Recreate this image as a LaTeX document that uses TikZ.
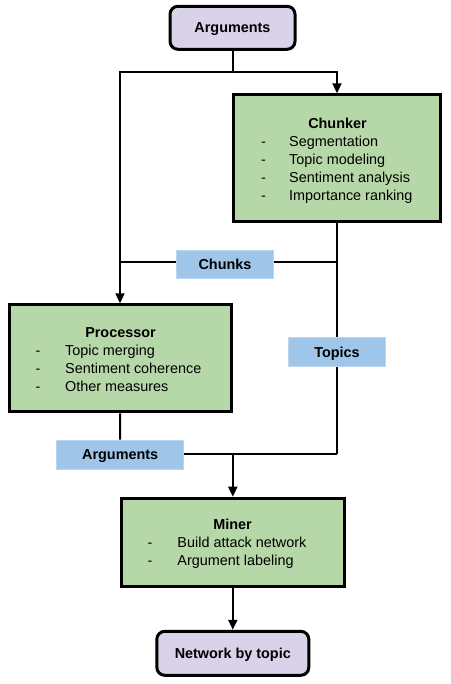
\documentclass[tikz,border=0pt]{standalone}
\usepackage{fontspec}
\setmainfont{Liberation Sans}
\usetikzlibrary{arrows.meta,backgrounds}
\definecolor{boxgreen}{HTML}{B6D7A8}
\definecolor{boxlav}{HTML}{D9D2E9}
\definecolor{boxblue}{HTML}{9FC5E8}
\begin{document}
\begin{tikzpicture}[x=1pt,y=-1pt,
  every node/.style={font=\fontsize{14.4}{18}\selectfont},
  stagebox/.style={draw=black,line width=3pt,fill=boxgreen,inner sep=0pt},
  termbox/.style={draw=black,line width=3pt,fill=boxlav,rounded corners=8pt,inner sep=0pt,text height=10.4pt,text depth=0pt,font=\fontsize{14.4}{18}\selectfont\bfseries},
  flowlabel/.style={fill=boxblue,draw=boxblue!70!white,line width=0.8pt,inner sep=0pt,text height=10.4pt,text depth=0pt,font=\fontsize{14.4}{18}\selectfont\bfseries},
  titletext/.style={anchor=base,inner sep=0pt,font=\fontsize{14.4}{18}\selectfont\bfseries},
  listtext/.style={anchor=base west,inner sep=0pt,align=left},
  conn/.style={line width=2pt},
  arr/.style={conn,-{Triangle[length=10pt,width=9pt]}}
]
\useasboundingbox (0,0) rectangle (450,684);
% terminals and stages
\node[termbox,minimum width=125pt,minimum height=43pt] (args) at (232.5,27.8) {Arguments};
\node[stagebox,minimum width=207pt,minimum height=127pt] (chunker) at (337,158.3) {};
\node[stagebox,minimum width=222pt,minimum height=107pt] (proc) at (120,358.3) {};
\node[stagebox,minimum width=223pt,minimum height=88pt] (miner) at (232.8,542.2) {};
\node[termbox,minimum width=152pt,minimum height=44pt] (net) at (232.8,653.3) {Network by topic};
% texts in stages
\node[titletext] (chunkertitle) at (337.5,129) {Chunker};
\node[listtext] (chunkerlist) at (261,147) {\begin{tabular}[t]{@{}p{28pt}@{}l@{}}-&Segmentation\\-&Topic modeling\\-&Sentiment analysis\\-&Importance ranking\end{tabular}};
\node[titletext] (proctitle) at (120.5,337) {Processor};
\node[listtext] (proclist) at (35.5,355) {\begin{tabular}[t]{@{}p{29.5pt}@{}l@{}}-&Topic merging\\-&Sentiment coherence\\-&Other measures\end{tabular}};
\node[titletext] (minertitle) at (232.5,529.3) {Miner};
\node[listtext] (minerlist) at (147.5,547.7) {\begin{tabular}[t]{@{}p{29.8pt}@{}l@{}}-&Build attack network\\-&Argument labeling\end{tabular}};
% flow labels
\node[flowlabel,minimum width=96.6pt,minimum height=28.3pt] (lchunks) at (225,264.2) {Chunks};
\node[flowlabel,minimum width=96.6pt,minimum height=29pt] (ltopics) at (337,352.2) {Topics};
\node[flowlabel,minimum width=127pt,minimum height=29pt] (largs) at (120.2,454.5) {Arguments};
% junction coordinates
\coordinate (j1) at (args.south |- 0,72);
\coordinate (jl) at (120,72);
\coordinate (jr) at (chunker.north |- 0,72);
\coordinate (jchunkr) at (chunker.south |- 0,262.3);
\coordinate (jchunkl) at (120,262.3);
\coordinate (jbot) at (chunker.south |- 0,454.3);
\coordinate (jmid) at (miner.north |- 0,454.3);
\begin{scope}[on background layer]
\draw[conn] (args.south) -- (j1);
\draw[arr] (j1) -- (jl) -- (proc.north -| jl);
\draw[arr] (j1) -- (jr) -- (chunker.north);
\draw[conn] (chunker.south) -- (jbot);
\draw[conn] (jchunkr) -- (jchunkl);
\draw[conn] (proc.south) -- (largs.north);
\draw[conn] (largs.east |- jbot) -- (jbot);
\draw[arr] (jmid) -- (miner.north);
\draw[arr] (miner.south) -- (net.north);
\end{scope}
\end{tikzpicture}
\end{document}
